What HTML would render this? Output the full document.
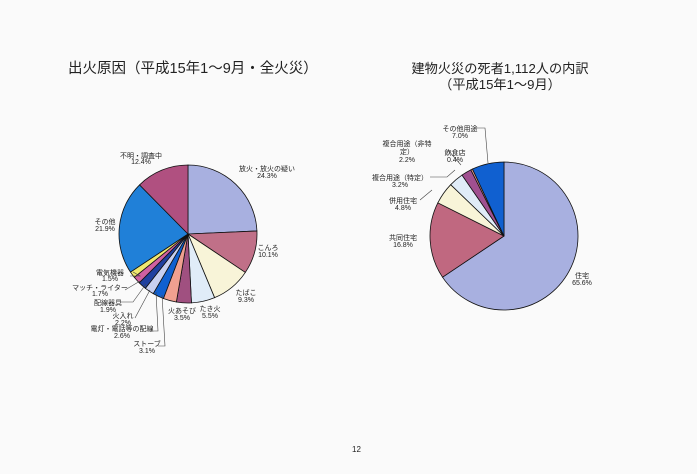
<!DOCTYPE html>
<html><head><meta charset="utf-8"><style>
body{margin:0;background:#fff;}
svg{display:block;font-family:"Liberation Sans","Noto Sans CJK JP",sans-serif;}
</style></head><body>
<svg id="s" width="697" height="474" viewBox="0 0 697 474">
<rect width="697" height="474" fill="#fafafa"/>
<g id="p1"></g><g id="p2"></g>
<text x="68" y="73" font-size="14.5" fill="#222">出火原因（平成15年1～9月・全火災）</text>
<text x="500" y="73" font-size="13.2" fill="#222" text-anchor="middle">建物火災の死者1,112人の内訳</text>
<text x="500" y="89" font-size="13.2" fill="#222" text-anchor="middle">（平成15年1～9月）</text>
<g font-size="7" fill="#222" text-anchor="middle">
<text x="141" y="158">不明・調査中</text><text x="141" y="164">12.4%</text>
<text x="267" y="171">放火・放火の疑い</text><text x="267" y="178">24.3%</text>
<text x="268" y="250">こんろ</text><text x="268" y="257">10.1%</text>
<text x="246" y="295">たばこ</text><text x="246" y="302">9.3%</text>
<text x="210" y="311">たき火</text><text x="210" y="318">5.5%</text>
<text x="182" y="313">火あそび</text><text x="182" y="320">3.5%</text>
<text x="105" y="224">その他</text><text x="105" y="231">21.9%</text>
<text x="110" y="275">電気機器</text><text x="110" y="281">1.5%</text>
<text x="100" y="290">マッチ・ライター</text><text x="100" y="296">1.7%</text>
<text x="108" y="305">配線器具</text><text x="108" y="312">1.9%</text>
<text x="123" y="318">火入れ</text><text x="123" y="325">2.2%</text>
<text x="122" y="331">電灯・電話等の配線</text><text x="122" y="338">2.6%</text>
<text x="147" y="346">ストーブ</text><text x="147" y="353">3.1%</text>
<text x="460" y="131">その他用途</text><text x="460" y="138">7.0%</text>
<text x="407" y="146">複合用途（非特</text><text x="407" y="154">定）</text><text x="407" y="162">2.2%</text>
<text x="455" y="155">飲食店</text><text x="455" y="162">0.4%</text>
<text x="400" y="180">複合用途（特定）</text><text x="400" y="187">3.2%</text>
<text x="403" y="203">併用住宅</text><text x="403" y="210">4.8%</text>
<text x="403" y="240">共同住宅</text><text x="403" y="247">16.8%</text>
<text x="582" y="278">住宅</text><text x="582" y="285">65.6%</text>
</g>
<g stroke="#444" stroke-width="0.6" fill="none">
<polyline points="130,276 140,276 133,272"/>
<polyline points="125,290 140,281"/>
<polyline points="120,302 133,302 146,284"/>
<polyline points="135,318 150,290"/>
<polyline points="150,331 158,331 156,292"/>
<polyline points="158,346 165,346 162,295"/>
<polyline points="476,128 485,128 488,163"/>
<polyline points="448,150 461,165"/>
<polyline points="430,177 447,177 455,170"/>
<polyline points="420,200 432,190"/>
</g>
<text x="352" y="452" font-size="8" fill="#222">12</text>
</svg>
<script>
function pie(g,cx,cy,r,data){
 var a=-Math.PI/2,h='';
 data.forEach(function(d){
  var b=a+d[0]/100*2*Math.PI;
  var x1=cx+r*Math.cos(a),y1=cy+r*Math.sin(a),x2=cx+r*Math.cos(b),y2=cy+r*Math.sin(b);
  h+='<path d="M'+cx+','+cy+'L'+x1+','+y1+'A'+r+','+r+' 0 '+((b-a)>Math.PI?1:0)+' 1 '+x2+','+y2+'Z" fill="'+d[1]+'" stroke="#111" stroke-width="0.8"/>';
  a=b;
 });
 document.getElementById(g).innerHTML=h;
}
pie('p1',188,234,69,[[24.3,'#a8b0e0'],[10.1,'#c07088'],[9.3,'#f8f4d8'],[5.5,'#e0ecf8'],[3.5,'#a05080'],[3.1,'#f0a090'],[2.6,'#1060d0'],[2.2,'#c8d0f0'],[1.9,'#2040a0'],[1.7,'#d060a0'],[1.5,'#f0e870'],[21.9,'#2080d8'],[12.4,'#b05080']]);
pie('p2',504,236,74,[[65.6,'#a8b0e0'],[16.8,'#c06880'],[4.8,'#f8f4d8'],[3.2,'#e0ecf8'],[2.2,'#a05090'],[0.4,'#f0a090'],[7.0,'#1060d0']]);
</script>
</body></html>
